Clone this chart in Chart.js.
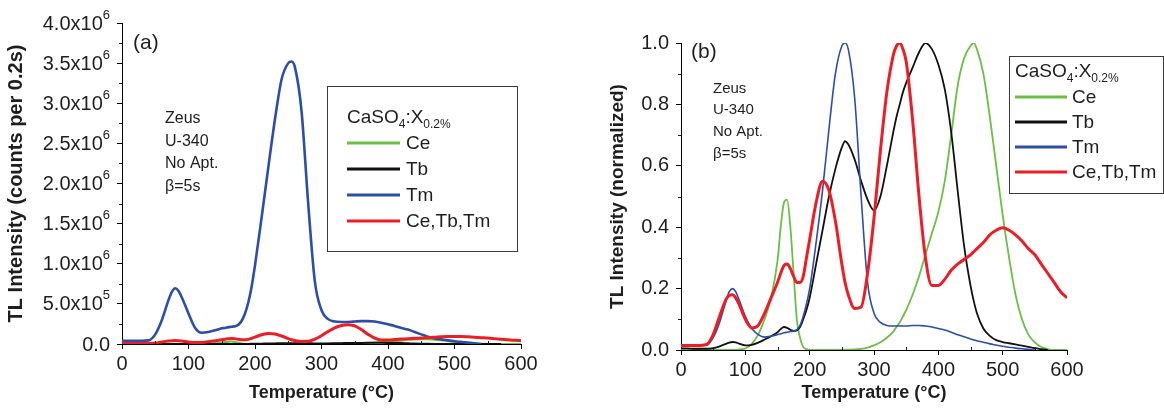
<!DOCTYPE html>
<html>
<head>
<meta charset="utf-8">
<script src="https://cdn.jsdelivr.net/npm/chart.js@4.4.1/dist/chart.umd.min.js"></script>
<style>
  body { margin: 0; background: #fff; width: 1164px; height: 408px; overflow: hidden; position: relative; }
  canvas { position: absolute; top: 0; }
</style>
</head>
<body>
<canvas id="chartA" width="582" height="408" style="left:0"></canvas>
<canvas id="chartB" width="582" height="408" style="left:582px"></canvas>
<script>
// temperature grid (°C), shared by every curve
const temps = [
  0, 10, 20, 30, 40, 50, 60, 70,
  75, 80, 85, 90, 100, 110, 120, 130,
  140, 150, 155, 160, 165, 170, 175, 180,
  185, 190, 195, 200, 210, 220, 230, 240,
  250, 255, 260, 270, 280, 290, 300, 310,
  320, 330, 335, 340, 345, 350, 360, 370,
  380, 390, 400, 410, 420, 430, 440, 450,
  455, 460, 470, 480, 490, 500, 510, 520,
  530, 540, 550, 560, 570, 580, 590, 600
]

// panel (a): TL counts per 0.2 s, in millions
const ceA = [
  0, 0, 0, 0, 0, 0, 0, 0,
  0, 0, 0, 0, 0, 0.001, 0.003, 0.006,
  0.01, 0.017, 0.024, 0.029, 0.03, 0.024, 0.015, 0.006,
  0.002, 0.001, 0, 0, 0, 0, 0, 0,
  0, 0, 0, 0, 0, 0, 0.001, 0.002,
  0.002, 0.004, 0.005, 0.005, 0.007, 0.008, 0.011, 0.014,
  0.019, 0.023, 0.027, 0.033, 0.042, 0.052, 0.057, 0.059,
  0.06, 0.059, 0.054, 0.046, 0.036, 0.026, 0.018, 0.011,
  0.006, 0.003, 0.0015, 0.0006, 0, 0, 0, 0
]
const tbA = [
  0, 0, 0, 0, 0, 0, 0, 0.0003,
  0.0004, 0.0004, 0.0004, 0.0003, 0.0002, 0.0003, 0.0004, 0.0005,
  0.0007, 0.0009, 0.001, 0.0011, 0.0011, 0.001, 0.0009, 0.001,
  0.0011, 0.0015, 0.002, 0.0025, 0.004, 0.006, 0.0075, 0.009,
  0.01, 0.01, 0.01, 0.0093, 0.0083, 0.0074, 0.0068, 0.0075,
  0.009, 0.0107, 0.0114, 0.012, 0.0126, 0.013, 0.0138, 0.0145,
  0.015, 0.0147, 0.014, 0.0128, 0.011, 0.0084, 0.0058, 0.0038,
  0.003, 0.0023, 0.0014, 0.0008, 0.0005, 0.0004, 0.0003, 0.0003,
  0.0002, 0.0002, 0.0001, 0, 0, null, null, null
]
const tmA = [
  0.04, 0.04, 0.04, 0.04, 0.045, 0.12, 0.3, 0.55,
  0.65, 0.695, 0.66, 0.58, 0.38, 0.2, 0.14, 0.15,
  0.17, 0.195, 0.2, 0.21, 0.215, 0.22, 0.24, 0.29,
  0.38, 0.52, 0.72, 0.98, 1.58, 2.2, 2.8, 3.3,
  3.5, 3.52, 3.45, 2.9, 1.75, 0.78, 0.42, 0.31,
  0.28, 0.275, 0.275, 0.275, 0.277, 0.28, 0.285, 0.285,
  0.28, 0.265, 0.245, 0.225, 0.2, 0.18, 0.15, 0.12,
  0.105, 0.09, 0.07, 0.058, 0.045, 0.035, 0.026, 0.017,
  0.008, 0, null, null, null, null, null, null
]
const mixA = [
  0.005, 0.005, 0.005, 0.005, 0.006, 0.012, 0.026, 0.038,
  0.042, 0.043, 0.041, 0.036, 0.025, 0.018, 0.02, 0.029,
  0.041, 0.053, 0.06, 0.066, 0.067, 0.064, 0.058, 0.053,
  0.053, 0.058, 0.072, 0.086, 0.115, 0.132, 0.125, 0.1,
  0.067, 0.053, 0.043, 0.032, 0.034, 0.06, 0.103, 0.156,
  0.2, 0.23, 0.238, 0.24, 0.235, 0.226, 0.18, 0.12,
  0.072, 0.05, 0.05, 0.055, 0.062, 0.067, 0.071, 0.074,
  0.077, 0.079, 0.084, 0.09, 0.094, 0.095, 0.094, 0.09,
  0.085, 0.079, 0.074, 0.067, 0.06, 0.053, 0.046, 0.041
]

// panel (b): normalized TL
const ceB = [
  0, 0, 0, 0, 0, 0, 0, 0,
  0, 0, 0, 0.002, 0.005, 0.02, 0.05, 0.1,
  0.17, 0.29, 0.4, 0.48, 0.49, 0.4, 0.25, 0.1,
  0.04, 0.01, 0.003, 0, 0, 0, 0, 0,
  0.001, 0.001, 0.001, 0.002, 0.004, 0.008, 0.015, 0.025,
  0.04, 0.06, 0.075, 0.09, 0.11, 0.13, 0.18, 0.24,
  0.31, 0.38, 0.45, 0.55, 0.7, 0.86, 0.95, 0.99,
  1.0, 0.98, 0.9, 0.76, 0.6, 0.44, 0.3, 0.18,
  0.1, 0.05, 0.025, 0.01, 0.003, 0, 0, 0
]
const tbB = [
  0.005, 0.005, 0.004, 0.004, 0.004, 0.006, 0.012, 0.02,
  0.024, 0.026, 0.025, 0.021, 0.015, 0.017, 0.024, 0.034,
  0.045, 0.058, 0.068, 0.075, 0.072, 0.066, 0.062, 0.064,
  0.075, 0.1, 0.13, 0.17, 0.28, 0.39, 0.5, 0.59,
  0.66, 0.68, 0.67, 0.62, 0.55, 0.49, 0.455, 0.5,
  0.6, 0.71, 0.76, 0.8, 0.84, 0.87, 0.92, 0.97,
  1.0, 0.98, 0.93, 0.85, 0.71, 0.52, 0.34, 0.21,
  0.16, 0.12, 0.07, 0.046, 0.032, 0.026, 0.022, 0.018,
  0.014, 0.01, 0.006, 0.003, 0, null, null, null
]
const tmB = [
  0.015, 0.015, 0.015, 0.015, 0.016, 0.04, 0.09, 0.16,
  0.19, 0.2, 0.19, 0.165, 0.11, 0.07, 0.05, 0.042,
  0.045, 0.05, 0.053, 0.056, 0.058, 0.06, 0.062, 0.066,
  0.08, 0.11, 0.15, 0.2, 0.35, 0.52, 0.72, 0.9,
  0.99, 1.0, 0.98, 0.82, 0.5, 0.22, 0.12, 0.09,
  0.08, 0.078, 0.078, 0.078, 0.078, 0.078, 0.08, 0.08,
  0.078, 0.075, 0.07, 0.065, 0.058, 0.05, 0.043, 0.036,
  0.033, 0.03, 0.025, 0.02, 0.016, 0.012, 0.009, 0.006,
  0.004, 0.002, 0, null, null, null, null, null
]
const mixB = [
  0.015, 0.015, 0.015, 0.015, 0.018, 0.05, 0.11, 0.165,
  0.178, 0.18, 0.17, 0.15, 0.1, 0.072, 0.08, 0.12,
  0.17, 0.22, 0.25, 0.275, 0.28, 0.265, 0.24, 0.22,
  0.22, 0.24, 0.3, 0.36, 0.48, 0.55, 0.52, 0.42,
  0.28, 0.22, 0.18, 0.135, 0.14, 0.25, 0.43, 0.65,
  0.84, 0.96, 0.99, 1.0, 0.98, 0.94, 0.75, 0.5,
  0.3, 0.21, 0.21, 0.23, 0.26, 0.28, 0.295, 0.31,
  0.32, 0.33, 0.35, 0.375, 0.39, 0.398, 0.39, 0.375,
  0.355, 0.33, 0.31, 0.28, 0.25, 0.22, 0.19, 0.17
]

const seriesNames = ['Ce', 'Tb', 'Tm', 'Ce,Tb,Tm']
const xTicks = [0, 100, 200, 300, 400, 500, 600]

const green = '#6abf45'
const black = '#111111'
const blue = '#2c4ea6'
const red = '#ee1c25'
const textCol = '#1e1e1e'
const fontFam = '"Liberation Sans", Arial, Helvetica, sans-serif'

function mk(label, values, color, width, order) {
  return {
    label: label,
    data: temps.map((t, i) => ({ x: t, y: values[i] })),
    borderColor: color,
    backgroundColor: color,
    borderWidth: width,
    pointRadius: 0,
    cubicInterpolationMode: 'monotone',
    order: order
  }
}

// draws minor ticks, annotations, custom legend and sci tick labels
const panelDeco = {
  id: 'panel',
  afterDraw(chart, args, opts) {
    const ctx = chart.ctx
    const area = chart.chartArea
    const xs = chart.scales.x
    const ys = chart.scales.y
    ctx.save()

    // minor ticks
    ctx.strokeStyle = '#222'
    ctx.lineWidth = 1
    ctx.beginPath()
    for (let t = 50; t < 600; t += 100) {
      const px = Math.round(xs.getPixelForValue(t)) + 0.5
      ctx.moveTo(px, area.bottom)
      ctx.lineTo(px, area.bottom - 3)
    }
    for (let v = opts.yMinor; v < ys.max; v += opts.yMinor * 2) {
      const py = Math.round(ys.getPixelForValue(v)) + 0.5
      ctx.moveTo(area.left, py)
      ctx.lineTo(area.left - 3, py)
    }
    ctx.stroke()

    // y tick labels like 3.5x10^6
    if (opts.sciLabels) {
      ctx.fillStyle = textCol
      ctx.textAlign = 'right'
      ctx.textBaseline = 'middle'
      ys.ticks.forEach(t => {
        const v = t.value
        const py = ys.getPixelForValue(v)
        let base = '0.0', exp = ''
        if (v >= 1) { base = v.toFixed(1) + 'x10'; exp = '6' }
        else if (v > 0) { base = (v * 10).toFixed(1) + 'x10'; exp = '5' }
        const right = area.left - 12
        ctx.font = '13px ' + fontFam
        const ew = exp ? ctx.measureText(exp).width : 0
        if (exp) ctx.fillText(exp, right, py - 8)
        ctx.font = '20px ' + fontFam
        ctx.fillText(base, right - ew, py + 1)
      })
    }

    // annotations
    ctx.fillStyle = textCol
    ctx.textAlign = 'left'
    ctx.textBaseline = 'middle'
    opts.notes.forEach(n => {
      ctx.font = n.size + 'px ' + fontFam
      ctx.fillText(n.text, n.x, n.y)
    })

    // legend box
    const L = opts.legend
    ctx.strokeStyle = '#3a3a3a'
    ctx.lineWidth = 1
    ctx.strokeRect(L.left + 0.5, L.top + 0.5, L.right - L.left, L.bottom - L.top)
    ctx.textBaseline = 'alphabetic'
    const big = L.size + 'px ' + fontFam
    const small = Math.round(L.size * 0.64) + 'px ' + fontFam
    let x = L.titleX
    const parts = [['CaSO', big, 0], ['4', small, 5], [':X', big, 0], ['0.2%', small, 5]]
    parts.forEach(p => {
      ctx.font = p[1]
      ctx.fillText(p[0], x, L.titleY + p[2])
      x += ctx.measureText(p[0]).width
    })
    ctx.font = big
    ctx.textBaseline = 'middle'
    chart.data.datasets.forEach((ds, i) => {
      const y = L.rowY + i * L.rowGap
      ctx.strokeStyle = ds.borderColor
      ctx.lineWidth = 3
      ctx.beginPath()
      ctx.moveTo(L.lineX0, y)
      ctx.lineTo(L.lineX1, y)
      ctx.stroke()
      ctx.fillText(ds.label, L.textX, y + 1)
    })
    ctx.restore()
  }
}

function xScale(h) {
  return {
    type: 'linear',
    min: 0,
    max: 600,
    afterBuildTicks: s => { s.ticks = xTicks.map(v => ({ value: v })) },
    afterFit: s => { s.height = h },
    border: { color: '#000', width: 1 },
    grid: { drawOnChartArea: false, drawTicks: true, tickLength: 5, tickColor: '#000' },
    ticks: { color: textCol, font: { family: fontFam, size: 20 }, padding: 3, maxRotation: 0 },
    title: {
      display: true,
      text: 'Temperature (°C)',
      color: textCol,
      font: { family: fontFam, size: 18, weight: 'bold' },
      padding: { top: 2, bottom: 4 }
    }
  }
}

new Chart(document.getElementById('chartA'), {
  type: 'line',
  data: {
    datasets: [
      mk(seriesNames[0], ceA, green, 2, 3),
      mk(seriesNames[1], tbA, black, 2, 2),
      mk(seriesNames[2], tmA, blue, 2.6, 1),
      mk(seriesNames[3], mixA, red, 3, 0)
    ]
  },
  options: {
    responsive: false,
    animation: false,
    layout: { padding: { left: 1, right: 61, top: 23, bottom: 0 } },
    plugins: {
      legend: { display: false },
      tooltip: { enabled: false },
      panel: {
        yMinor: 0.25,
        sciLabels: true,
        notes: [
          { text: '(a)', x: 133, y: 43, size: 21 },
          { text: 'Zeus', x: 165, y: 119, size: 16 },
          { text: 'U-340', x: 165, y: 142, size: 16 },
          { text: 'No Apt.', x: 165, y: 164, size: 16 },
          { text: 'β=5s', x: 165, y: 187, size: 16 }
        ],
        legend: {
          left: 327, top: 86, right: 517, bottom: 251, size: 19,
          titleX: 347, titleY: 123, rowY: 143, rowGap: 26,
          lineX0: 347, lineX1: 400, textX: 406
        }
      }
    },
    scales: {
      x: xScale(64),
      y: {
        type: 'linear',
        min: 0,
        max: 4,
        afterFit: s => { s.width = 121 },
        border: { color: '#000', width: 1 },
        grid: { drawOnChartArea: false, drawTicks: true, tickLength: 5, tickColor: '#000' },
        ticks: { display: false, stepSize: 0.5 },
        title: {
          display: true,
          text: 'TL Intensity (counts per 0.2s)',
          color: textCol,
          font: { family: fontFam, size: 20, weight: 'bold' },
          padding: { top: 3, bottom: 4 }
        }
      }
    }
  },
  plugins: [panelDeco]
})

new Chart(document.getElementById('chartB'), {
  type: 'line',
  data: {
    datasets: [
      mk(seriesNames[0], ceB, green, 1.8, 3),
      mk(seriesNames[1], tbB, black, 1.8, 2),
      mk(seriesNames[2], tmB, blue, 1.6, 1),
      mk(seriesNames[3], mixB, red, 3, 0)
    ]
  },
  options: {
    responsive: false,
    animation: false,
    layout: { padding: { left: 20, right: 97, top: 43, bottom: 0 } },
    plugins: {
      legend: { display: false },
      tooltip: { enabled: false },
      panel: {
        yMinor: 0.1,
        sciLabels: false,
        notes: [
          { text: '(b)', x: 109, y: 52, size: 21 },
          { text: 'Zeus', x: 131, y: 89, size: 15 },
          { text: 'U-340', x: 131, y: 110, size: 15 },
          { text: 'No Apt.', x: 131, y: 132, size: 15 },
          { text: 'β=5s', x: 131, y: 154, size: 15 }
        ],
        legend: {
          left: 427, top: 56, right: 581, bottom: 193, size: 19,
          titleX: 433, titleY: 77, rowY: 97, rowGap: 25,
          lineX0: 433, lineX1: 485, textX: 490
        }
      }
    },
    scales: {
      x: xScale(58),
      y: {
        type: 'linear',
        min: 0,
        max: 1,
        afterFit: s => { s.width = 79 },
        border: { color: '#000', width: 1 },
        grid: { drawOnChartArea: false, drawTicks: true, tickLength: 5, tickColor: '#000' },
        ticks: {
          stepSize: 0.2,
          color: textCol,
          padding: 7,
          font: { family: fontFam, size: 20 },
          callback: v => v.toFixed(1)
        },
        title: {
          display: true,
          text: 'TL Intensity (normalized)',
          color: textCol,
          font: { family: fontFam, size: 19, weight: 'bold' },
          padding: { top: 4, bottom: 4 }
        }
      }
    }
  },
  plugins: [panelDeco]
})
</script>
</body>
</html>
